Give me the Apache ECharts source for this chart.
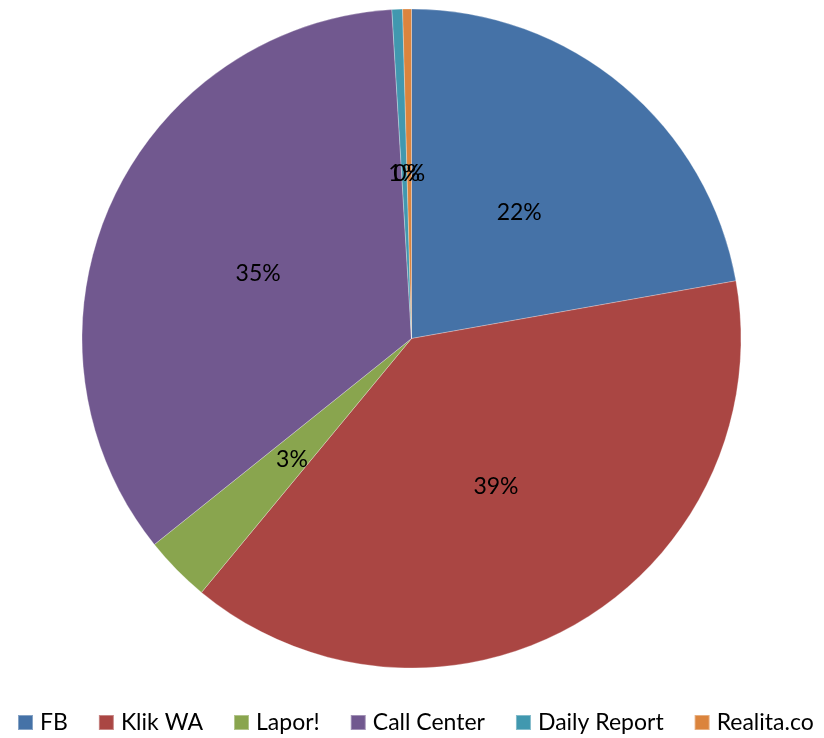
<!DOCTYPE html>
<html>
<head>
<meta charset="utf-8">
<script src="https://cdn.jsdelivr.net/npm/echarts@6/dist/echarts.min.js"></script>
<style>
html,body{margin:0;padding:0;background:#fff;}
#chart{width:824px;height:738px;}
</style>
</head>
<body>
<div id="chart"></div>
<script>
const categories = ['FB', 'Klik WA', 'Lapor!', 'Call Center', 'Daily Report', 'Realita.co'];
const values = [22.2, 38.8, 3.25, 34.8, 0.52, 0.43];
const colors = ['#4572A7', '#AA4643', '#89A54E', '#71588F', '#4198AF', '#DB843D'];

const chart = echarts.init(document.getElementById('chart'), null, {renderer: 'canvas'});
chart.setOption({
  animation: false,
  color: colors,
  legend: {
    data: categories,
    left: 12,
    top: 706,
    width: 812,
    orient: 'horizontal',
    itemWidth: 15,
    itemHeight: 15,
    itemGap: 30,
    icon: 'rect',
    selectedMode: false,
    textStyle: {fontFamily: 'Lato', fontSize: 23, color: '#000', padding: [0, 0, 0, 2]}
  },
  series: [{
    type: 'pie',
    center: [411.5, 338.5],
    radius: [0, 329.5],
    startAngle: 90,
    clockwise: true,
    avoidLabelOverlap: false,
    minShowLabelAngle: 0,
    labelLayout: {hideOverlap: false},
    emphasis: {disabled: true},
    itemStyle: {borderColor: 'rgba(255,255,255,0.35)', borderWidth: 0.8},
    label: {
      show: true,
      position: 'inside',
      color: '#000',
      fontFamily: 'Lato',
      fontSize: 23,
      offset: [0, 3],
      formatter: function (p) { return Math.round(p.percent) + '%'; }
    },
    labelLine: {show: false},
    data: categories.map((c, i) => ({name: c, value: values[i]}))
  }]
});
</script>
</body>
</html>
